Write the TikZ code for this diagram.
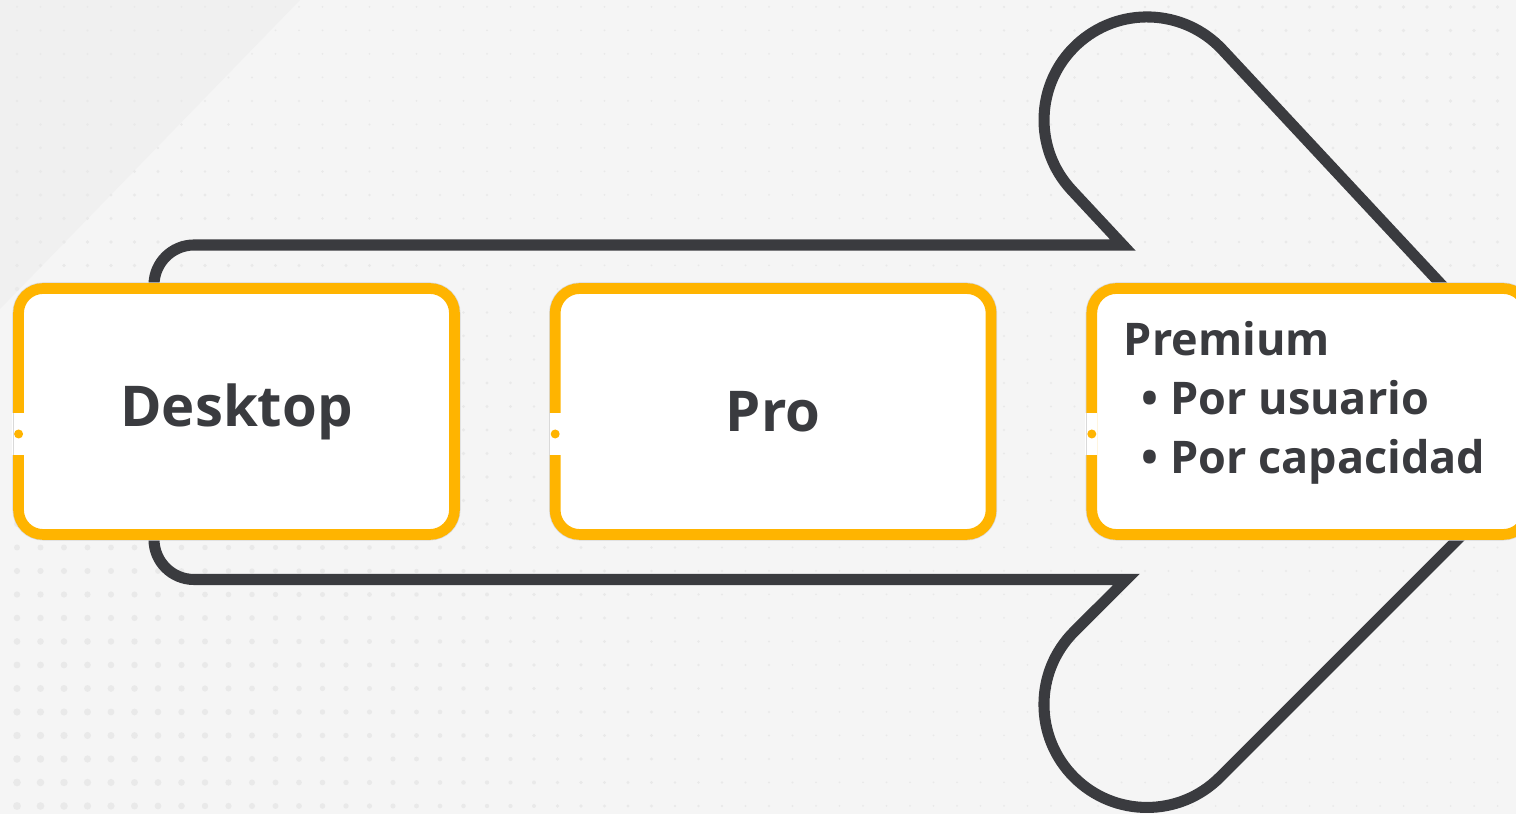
\documentclass[tikz,border=0pt]{standalone}
\usepackage{fontspec}
\setmainfont{Open Sans}
\usetikzlibrary{positioning}
\definecolor{amber}{HTML}{FFB400}
\definecolor{inkgray}{HTML}{3A3B3F}
\definecolor{paper}{HTML}{F5F5F5}
\definecolor{haze}{HTML}{F0F0F0}
\definecolor{dotgray}{HTML}{E9E9E9}

\begin{document}
\begin{tikzpicture}[x=0.02cm,y=0.02cm,
  planbox/.style={draw=amber, line width=6.1pt, fill=white, rounded corners=14pt,
    minimum width=8.72cm, minimum height=4.92cm, inner sep=0pt,
    preaction={draw=black!15, line width=6.9pt}},
  plantext/.style={text=inkgray, font=\bfseries\fontsize{32}{38}\selectfont},
  premtext/.style={text=inkgray, align=left, inner sep=0pt,
    font=\bfseries\fontsize{25.6}{33.6}\selectfont},
  arrowline/.style={draw=inkgray, line width=6.3pt},
  node distance=1.8cm]
\clip (0,0) rectangle (1516,814);
\fill[paper] (0,0) rectangle (1516,814);
\fill[haze] (0,814) -- (300,814) -- (0,505) -- cycle;
% dotted background
\foreach \i in {0,...,64}
  \foreach \j in {0,...,34} {
    \pgfmathsetmacro\dx{17+23.5*\i}
    \pgfmathsetmacro\dy{807-23.5*\j}
    \pgfmathsetmacro\dr{1+3*max(0,1-veclen(\dx,\dy)/800)+max(0,1-veclen(1516-\dx,814-\dy)/700)}
    \fill[dotgray] (\dx,\dy) circle (\dr);
  }
% big arrow
\draw[arrowline] (600,569) -- (1122.8,569) -- (1071.7,623.8)
  arc[start angle=223, end angle=43, radius=103] -- (1572.2,389.1) -- (1219.8,36.7)
  arc[start angle=-45, end angle=-225, radius=103] -- (1126.4,234.5) -- (600,234.5)
  [rounded corners=22.8pt] -- (154,234.5) -- (154,569) -- cycle;
% plans
\node[planbox, plantext] (desk) at (236.5,402.5) {Desktop};
\node[planbox, plantext, right=of desk] (pro) {Pro};
\node[planbox, right=of pro] (prem) {};
\node[premtext, anchor=north west] (premlbl) at ([shift={(37,-38)}]prem.north west)
  {Premium\\\hspace{0.4em}• Por usuario\\\hspace{0.4em}• Por capacidad};
\foreach \b in {desk,pro,prem} {
  \fill[white] ([shift={(-1,-43.5)}]\b.west) rectangle ([shift={(11,-1.5)}]\b.west);
  \draw[black!15, line width=0.4pt] ([shift={(0,-43.5)}]\b.west) -- ([shift={(0,-1.5)}]\b.west);
  \fill[amber] ([shift={(5.4,-22.5)}]\b.west) circle (4.5);
}
\end{tikzpicture}
\end{document}
